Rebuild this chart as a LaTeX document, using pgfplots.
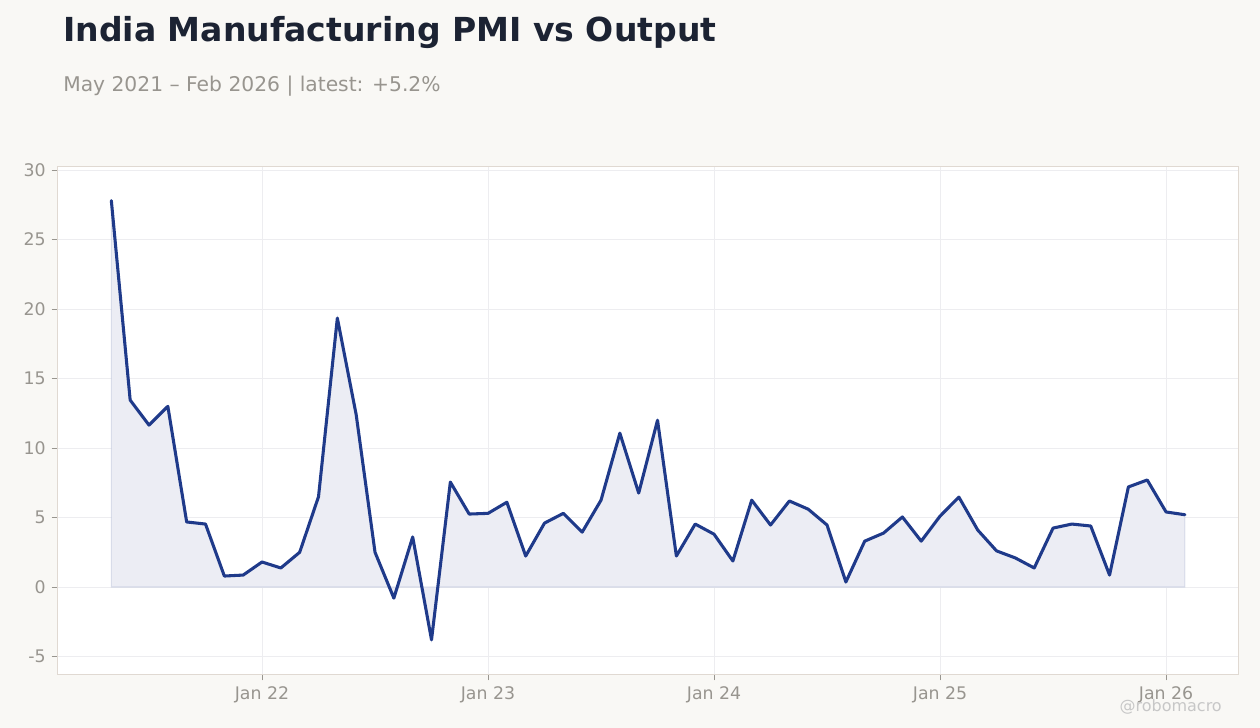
\documentclass[border=0pt]{standalone}
\usepackage{pgfplots}
\pgfplotsset{compat=1.18}
\usepackage{fontspec}
\setmainfont{DejaVu Sans}

\definecolor{bgpage}{HTML}{F9F8F5}
\definecolor{titlecol}{HTML}{1C2333}
\definecolor{subcol}{HTML}{98958F}
\definecolor{linecol}{HTML}{1F3A8A}
\definecolor{fillcol}{HTML}{ECEDF4}
\definecolor{gridcol}{HTML}{EDEDF0}
\definecolor{framecol}{HTML}{E0D9D2}
\definecolor{tickcol}{HTML}{98958F}

% Month index: Jan 2022 = 0
\pgfplotstableread{
m  v
-8 27.8
-7 13.45
-6 11.65
-5 13.0
-4 4.68
-3 4.53
-2 0.79
-1 0.86
0  1.8
1  1.37
2  2.5
3  6.5
4  19.35
5  12.4
6  2.5
7  -0.8
8  3.6
9  -3.8
10 7.55
11 5.25
12 5.3
13 6.1
14 2.23
15 4.6
16 5.3
17 3.95
18 6.25
19 11.07
20 6.76
21 12.0
22 2.23
23 4.53
24 3.8
25 1.87
26 6.25
27 4.46
28 6.19
29 5.6
30 4.46
31 0.36
32 3.3
33 3.88
34 5.04
35 3.3
36 5.1
37 6.47
38 4.1
39 2.6
40 2.09
41 1.37
42 4.24
43 4.53
44 4.39
45 0.86
46 7.2
47 7.7
48 5.4
49 5.2
}\pmidata

\begin{document}
\begin{tikzpicture}
  % page background, 945pt x 546pt
  \fill[bgpage] (0pt,0pt) rectangle (945pt,546pt);

  \node[anchor=base west, font=\fontsize{24.8pt}{30pt}\selectfont\bfseries, text=titlecol, inner sep=0pt]
    at (47.25pt,514.5pt) {India Manufacturing PMI vs Output};
  \node[anchor=base west, font=\fontsize{15.2pt}{18pt}\selectfont, text=subcol, inner sep=0pt]
    at (47.25pt,477pt) {May 2021 – Feb 2026 | latest: +5.2\%};

  \begin{axis}[
    at={(42.75pt,39.75pt)}, anchor=south west,
    scale only axis,
    width=885.75pt, height=381pt,
    xmin=-10.885, xmax=51.82,
    ymin=-6.33, ymax=30.22,
    axis background/.style={fill=white},
    axis line style={framecol, line width=0.75pt},
    xtick={0,12,24,36,48},
    xticklabels={Jan 22,Jan 23,Jan 24,Jan 25,Jan 26},
    ytick={-5,0,5,10,15,20,25,30},
    grid=major,
    major grid style={gridcol, line width=0.6pt},
    tick style={tickcol, line width=0.75pt},
    major tick length=4pt,
    tick align=outside,
    xtick pos=bottom, ytick pos=left,
    tick label style={font=\fontsize{13pt}{15pt}\selectfont, text=tickcol},
    /pgf/number format/assume math mode=true,
    xticklabel style={yshift=-1pt},
    yticklabel style={xshift=-1pt},
    clip=false,
  ]
    \addplot[fill=fillcol, draw=linecol, draw opacity=0.12, line width=0.8pt]
      table[x=m, y=v] {\pmidata} \closedcycle;
    \addplot[linecol, line width=2.3pt, line join=round, line cap=round]
      table[x=m, y=v] {\pmidata};
  \end{axis}

  \node[anchor=base east, font=\fontsize{12pt}{14pt}\selectfont, text=black!22, inner sep=0pt]
    at (916.5pt,12pt) {@robomacro};
\end{tikzpicture}
\end{document}
